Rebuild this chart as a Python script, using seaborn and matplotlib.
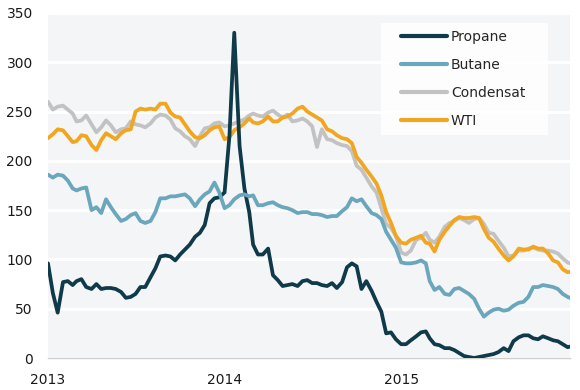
import matplotlib
matplotlib.use("Agg")
import matplotlib.pyplot as plt
import matplotlib.dates as mdates
from matplotlib.patches import Rectangle
import seaborn as sns
import pandas as pd

# ---- data (~10-day spacing) ----
months = pd.date_range("2013-01-01", "2015-12-01", freq="MS")
day_offsets = [0, 10, 20]
dates = [m + pd.Timedelta(days=d) for m in months for d in day_offsets]

propane = [96, 66, 46, 77, 78, 74, 78, 80, 72, 70, 75, 70,
           71, 71, 70, 67, 61, 62, 65, 72, 72, 82, 91, 103,
           104, 103, 99, 105, 110, 115, 123, 127, 135, 157, 162, 163,
           168, 225, 330, 215, 172, 148, 115, 105, 105, 111, 84, 79,
           73, 74, 75, 73, 78, 79, 76, 76, 74, 73, 76, 71,
           77, 92, 96, 93, 70, 78, 68, 57, 47, 25, 26, 19,
           14, 14, 18, 22, 26, 27, 20, 14, 13, 10, 10, 8,
           5, 2, 1, 0, 1, 2, 3, 4, 6, 10, 7, 17,
           21, 23, 23, 20, 19, 22, 20, 18, 17, 14, 11, 12]

butane = [186, 183, 186, 185, 180, 172, 170, 172, 173, 150, 153, 147,
          161, 153, 146, 139, 141, 145, 147, 139, 137, 139, 148, 162,
          162, 164, 164, 165, 166, 162, 154, 161, 166, 169, 178, 168,
          152, 155, 161, 165, 166, 164, 165, 155, 155, 157, 158, 155,
          153, 152, 150, 147, 148, 148, 146, 146, 145, 143, 144, 144,
          149, 153, 162, 159, 161, 154, 147, 145, 141, 128, 120, 112,
          97, 96, 96, 97, 99, 96, 78, 69, 72, 65, 64, 70,
          71, 68, 65, 60, 50, 42, 46, 49, 50, 48, 49, 53,
          56, 57, 62, 72, 72, 74, 73, 72, 70, 65, 62, 60]

condensat = [260, 252, 255, 256, 252, 248, 240, 241, 246, 237, 229, 234,
             241, 236, 229, 232, 233, 240, 237, 236, 234, 238, 244, 247,
             246, 242, 233, 230, 225, 222, 215, 225, 233, 234, 238, 239,
             235, 236, 238, 240, 242, 246, 248, 246, 245, 249, 251, 247,
             244, 247, 240, 241, 243, 240, 235, 214, 232, 222, 221, 218,
             216, 215, 210, 195, 191, 183, 174, 168, 152, 136, 132, 124,
             107, 105, 109, 120, 122, 127, 120, 117, 123, 133, 137, 139,
             142, 140, 137, 141, 142, 136, 127, 126, 119, 112, 103, 104,
             109, 109, 111, 112, 110, 109, 109, 108, 106, 101, 97, 95]

wti = [223, 227, 232, 231, 225, 219, 220, 226, 225, 216, 211, 221,
       228, 225, 222, 228, 231, 232, 250, 253, 252, 253, 252, 258,
       258, 249, 245, 244, 237, 230, 224, 223, 226, 231, 234, 235,
       222, 224, 231, 234, 238, 243, 239, 238, 240, 245, 240, 240,
       244, 245, 248, 253, 255, 250, 247, 244, 241, 232, 230, 226,
       223, 222, 218, 204, 198, 191, 184, 177, 165, 148, 137, 124,
       117, 116, 120, 122, 124, 117, 116, 108, 120, 128, 134, 140,
       143, 142, 142, 143, 142, 131, 122, 118, 111, 104, 99, 103,
       111, 110, 110, 113, 111, 111, 106, 99, 97, 90, 87, 88]

series_names = ["Propane", "Butane", "Condensat", "WTI"]
series_colors = ["#0f3a4a", "#6aa6bc", "#c2c2c2", "#f2a51f"]
series_values = [propane, butane, condensat, wti]

y_ticks = [0, 50, 100, 150, 200, 250, 300, 350]
x_tick_labels = ["2013", "2014", "2015"]

# ---- build long table ----
frames = []
for name, vals in zip(series_names, series_values):
    frames.append(pd.DataFrame({"date": dates, "value": vals, "series": name}))
df = pd.concat(frames, ignore_index=True)

sns.set_style("white", {"axes.facecolor": "#f4f5f7"})
plt.rcParams["font.family"] = ["DejaVu Sans"]

fig = plt.figure(figsize=(5.8, 3.9), dpi=100)
ax = fig.add_axes([48 / 580, 1 - 358 / 390, 522 / 580, 345 / 390])
ax.set_facecolor("#f4f5f7")

palette = dict(zip(series_names, series_colors))
zorders = {"Condensat": 2, "WTI": 3, "Propane": 4, "Butane": 5}
for name in ["Condensat", "WTI", "Propane", "Butane"]:
    sub = df[df["series"] == name]
    sns.lineplot(data=sub, x="date", y="value", color=palette[name],
                 linewidth=2.7, ax=ax, zorder=zorders[name],
                 solid_joinstyle="round", solid_capstyle="round")

ax.set_ylim(0, 350)
ax.set_yticks(y_ticks)
ax.set_xlim(pd.Timestamp("2013-01-01"), pd.Timestamp("2015-12-16"))
ax.set_xticks([pd.Timestamp(f"{y}-01-01") for y in x_tick_labels])
ax.set_xticklabels(x_tick_labels)
ax.set_xlabel("")
ax.set_ylabel("")

ax.grid(axis="y", color="white", linewidth=2.2, zorder=0)
ax.set_axisbelow(True)
for s in ["top", "right", "left"]:
    ax.spines[s].set_visible(False)
ax.spines["bottom"].set_color("#cfcfcf")
ax.spines["bottom"].set_linewidth(1)

ax.tick_params(axis="y", length=0, pad=11, labelsize=10, labelcolor="#1a1a1a")
ax.tick_params(axis="x", length=4, width=1, color="#c8c8c8", pad=7,
               labelsize=10, labelcolor="#1a1a1a")

# legend background box
ax.add_patch(Rectangle((0.637, 0.646), 0.321, 0.325, transform=ax.transAxes,
                       facecolor="white", alpha=0.85, edgecolor="none", zorder=6))
handles = [plt.Line2D([], [], color=c, linewidth=3.0, solid_capstyle="round")
           for c in series_colors]
leg = ax.legend(handles, series_names, loc="upper left",
                bbox_to_anchor=((401 - 48) / 522, (358 - 30) / 345),
                frameon=False, fontsize=10, handlelength=3.3,
                handletextpad=0.3, labelspacing=1.0, borderpad=0,
                borderaxespad=0)
leg.set_zorder(7)

fig.savefig("out.png", dpi=100)
